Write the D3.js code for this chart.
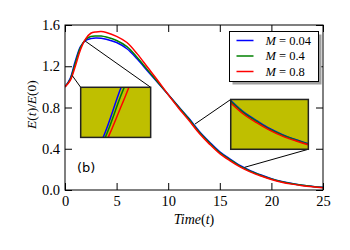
<!DOCTYPE html>
<html>
<head>
<meta charset="utf-8">
<script src="https://cdn.jsdelivr.net/npm/d3@7"></script>
<style>
  body { margin: 0; background: #fff; }
  svg { display: block; }
</style>
</head>
<body>
<div class="chart"></div>
<script>
// values
var times = [0, 0.5, 1, 1.5, 2, 2.5, 3, 3.5, 4, 5, 6, 7, 8, 9, 10, 11, 12, 13, 14, 15, 16, 17, 18, 19, 20, 21, 22, 23, 24, 25];
var energyM004 = [1.00, 1.08, 1.25, 1.39, 1.45, 1.468, 1.474, 1.471, 1.462, 1.43, 1.37, 1.27, 1.155, 1.04, 0.925, 0.81, 0.695, 0.57, 0.465, 0.37, 0.30, 0.235, 0.185, 0.145, 0.11, 0.083, 0.062, 0.046, 0.035, 0.026];
var energyM04 = [1.00, 1.07, 1.23, 1.38, 1.46, 1.488, 1.494, 1.493, 1.483, 1.45, 1.39, 1.285, 1.165, 1.045, 0.925, 0.805, 0.688, 0.562, 0.457, 0.363, 0.293, 0.229, 0.18, 0.141, 0.107, 0.08, 0.06, 0.045, 0.034, 0.025];
var energyM08 = [1.00, 1.06, 1.20, 1.36, 1.465, 1.52, 1.533, 1.537, 1.528, 1.49, 1.43, 1.32, 1.19, 1.06, 0.925, 0.795, 0.675, 0.55, 0.445, 0.352, 0.283, 0.222, 0.173, 0.135, 0.102, 0.076, 0.057, 0.042, 0.031, 0.022];
var seriesLabels = ["0.04", "0.4", "0.8"];
var xTicks = [0, 5, 10, 15, 20, 25];
var yTicks = [0, 0.4, 0.8, 1.2, 1.6];

var seriesColors = ["#0000ff", "#008000", "#ff0000"];
var serifFont = "Liberation Serif";

var svgWidth = 350, svgHeight = 250;
var margin = { top: 25, right: 27, bottom: 60, left: 65 };
var width = svgWidth - margin.left - margin.right;
var height = svgHeight - margin.top - margin.bottom;

var svg = d3.select(".chart").append("svg")
  .attr("width", svgWidth)
  .attr("height", svgHeight);

var chartGroup = svg.append("g")
  .attr("transform", `translate(${margin.left}, ${margin.top})`);

var xScale = d3.scaleLinear().domain([0, 25]).range([0, width]);
var yScale = d3.scaleLinear().domain([0, 1.6]).range([height, 0]);

var series = [energyM004, energyM04, energyM08].map(function(vals, i) {
  return {
    label: seriesLabels[i],
    color: seriesColors[i],
    points: times.map(function(t, j) { return { t: t, e: vals[j] }; })
  };
});

svg.append("defs").append("clipPath").attr("id", "clipMain")
  .append("rect").attr("width", width).attr("height", height);

// axes with inward ticks on all four sides
var tickLen = 7;
function styleAxis(g) {
  g.attr("font-family", serifFont).attr("font-size", 14.5);
  g.selectAll(".tick text").attr("fill", "#000");
  g.select(".domain").remove();
}
chartGroup.append("g")
  .attr("transform", `translate(0, ${height})`)
  .call(d3.axisBottom(xScale).tickValues(xTicks).tickSize(-tickLen).tickSizeOuter(0).tickPadding(6).tickFormat(d3.format("d")))
  .call(styleAxis);
chartGroup.append("g")
  .call(d3.axisLeft(yScale).tickValues(yTicks).tickSize(-tickLen).tickSizeOuter(0).tickPadding(5).tickFormat(d3.format(".1f")))
  .call(styleAxis);
chartGroup.append("g")
  .call(d3.axisTop(xScale).tickValues(xTicks).tickSize(-tickLen).tickSizeOuter(0).tickFormat(""))
  .call(styleAxis);
chartGroup.append("g")
  .attr("transform", `translate(${width}, 0)`)
  .call(d3.axisRight(yScale).tickValues(yTicks).tickSize(-tickLen).tickSizeOuter(0).tickFormat(""))
  .call(styleAxis);

// curves
var line = d3.line()
  .curve(d3.curveCatmullRom.alpha(0.5))
  .x(d => xScale(d.t))
  .y(d => yScale(d.e));

chartGroup.append("g").attr("clip-path", "url(#clipMain)")
  .selectAll("path")
  .data(series)
  .enter()
  .append("path")
  .attr("d", d => line(d.points))
  .attr("fill", "none")
  .attr("stroke", d => d.color)
  .attr("stroke-width", 1.5);

// frame
chartGroup.append("rect")
  .attr("width", width).attr("height", height)
  .attr("fill", "none").attr("stroke", "#000").attr("stroke-width", 1);

// zoom insets: box in parent data coords, zoom window, connectors
var insets = [
  { box: { x0: 1.52, x1: 8.3, y0: 0.51, y1: 0.996 }, xd: [0.16, 1.56], yd: [1.11, 1.24],
    links: [[0.7, 1.11, "x0", "y1"], [1.95, 1.445, "x1", "y1"]] },
  { box: { x0: 16.06, x1: 23.58, y0: 0.395, y1: 0.878 }, xd: [14, 20], yd: [0.065, 0.473],
    links: [[12.6, 0.64, "x0", "y1"], [17.4, 0.22, "x1", "y0"]] }
];

insets.forEach(function(ins, k) {
  var b = ins.box;
  chartGroup.selectAll(null)
    .data(ins.links)
    .enter()
    .append("line")
    .attr("x1", d => xScale(d[0])).attr("y1", d => yScale(d[1]))
    .attr("x2", d => xScale(b[d[2]])).attr("y2", d => yScale(b[d[3]]))
    .attr("stroke", "#000").attr("stroke-width", 1);

  var px0 = xScale(b.x0), px1 = xScale(b.x1), py0 = yScale(b.y1), py1 = yScale(b.y0);
  var g = chartGroup.append("g").attr("transform", `translate(${px0}, ${py0})`);
  var iw = px1 - px0, ih = py1 - py0;
  var ix = d3.scaleLinear().domain(ins.xd).range([0, iw]);
  var iy = d3.scaleLinear().domain(ins.yd).range([ih, 0]);

  svg.select("defs").append("clipPath").attr("id", "clipInset" + k)
    .append("rect").attr("width", iw).attr("height", ih);

  g.append("rect").attr("width", iw).attr("height", ih).attr("fill", "#bfbf00");

  var insetLine = d3.line().curve(d3.curveCatmullRom.alpha(0.5)).x(d => ix(d.t)).y(d => iy(d.e));
  g.append("g").attr("clip-path", `url(#clipInset${k})`)
    .selectAll("path")
    .data(series)
    .enter()
    .append("path")
    .attr("d", d => insetLine(d.points))
    .attr("fill", "none")
    .attr("stroke", d => d.color)
    .attr("stroke-width", 1.5);

  g.append("rect").attr("width", iw).attr("height", ih)
    .attr("fill", "none").attr("stroke", "#222").attr("stroke-width", 1.5);
});

// legend
var legend = svg.append("g").attr("transform", "translate(229.5, 31.5)");
legend.append("rect").attr("x", 3).attr("y", 3).attr("width", 89).attr("height", 50).attr("fill", "#a0a0a0");
legend.append("rect").attr("width", 89).attr("height", 50).attr("fill", "#fff").attr("stroke", "#000").attr("stroke-width", 1);
var rows = legend.selectAll("g.row")
  .data(series)
  .enter()
  .append("g")
  .attr("class", "row")
  .attr("transform", (d, i) => `translate(0, ${9 + i * 15.5})`);
rows.append("line")
  .attr("x1", 7).attr("x2", 24)
  .attr("stroke", d => d.color).attr("stroke-width", 1.5);
var legendText = rows.append("text")
  .attr("font-family", serifFont)
  .attr("x", 36).attr("y", 4)
  .attr("font-size", 12.5);
legendText.append("tspan").attr("font-style", "italic").text("M");
legendText.append("tspan").text(d => " = " + d.label);

// panel tag
chartGroup.append("text")
  .attr("x", 12).attr("y", 147)
  .attr("font-family", "DejaVu Sans")
  .attr("font-size", 13)
  .text("(b)");

// axis titles
var xTitle = chartGroup.append("text")
  .attr("font-family", serifFont)
  .attr("transform", `translate(${width / 2}, ${height + 34})`)
  .attr("text-anchor", "middle")
  .attr("font-size", 14);
xTitle.append("tspan").attr("font-style", "italic").text("Time");
xTitle.append("tspan").text("(");
xTitle.append("tspan").attr("font-style", "italic").text("t");
xTitle.append("tspan").text(")");

var yTitle = chartGroup.append("text")
  .attr("font-family", serifFont)
  .attr("transform", `translate(-29, ${height / 2 - 3}) rotate(-90)`)
  .attr("text-anchor", "middle")
  .attr("font-size", 13.5);
yTitle.append("tspan").attr("font-style", "italic").text("E");
yTitle.append("tspan").text("(");
yTitle.append("tspan").attr("font-style", "italic").text("t");
yTitle.append("tspan").text(")/");
yTitle.append("tspan").attr("font-style", "italic").text("E");
yTitle.append("tspan").text("(0)");
</script>
</body>
</html>
